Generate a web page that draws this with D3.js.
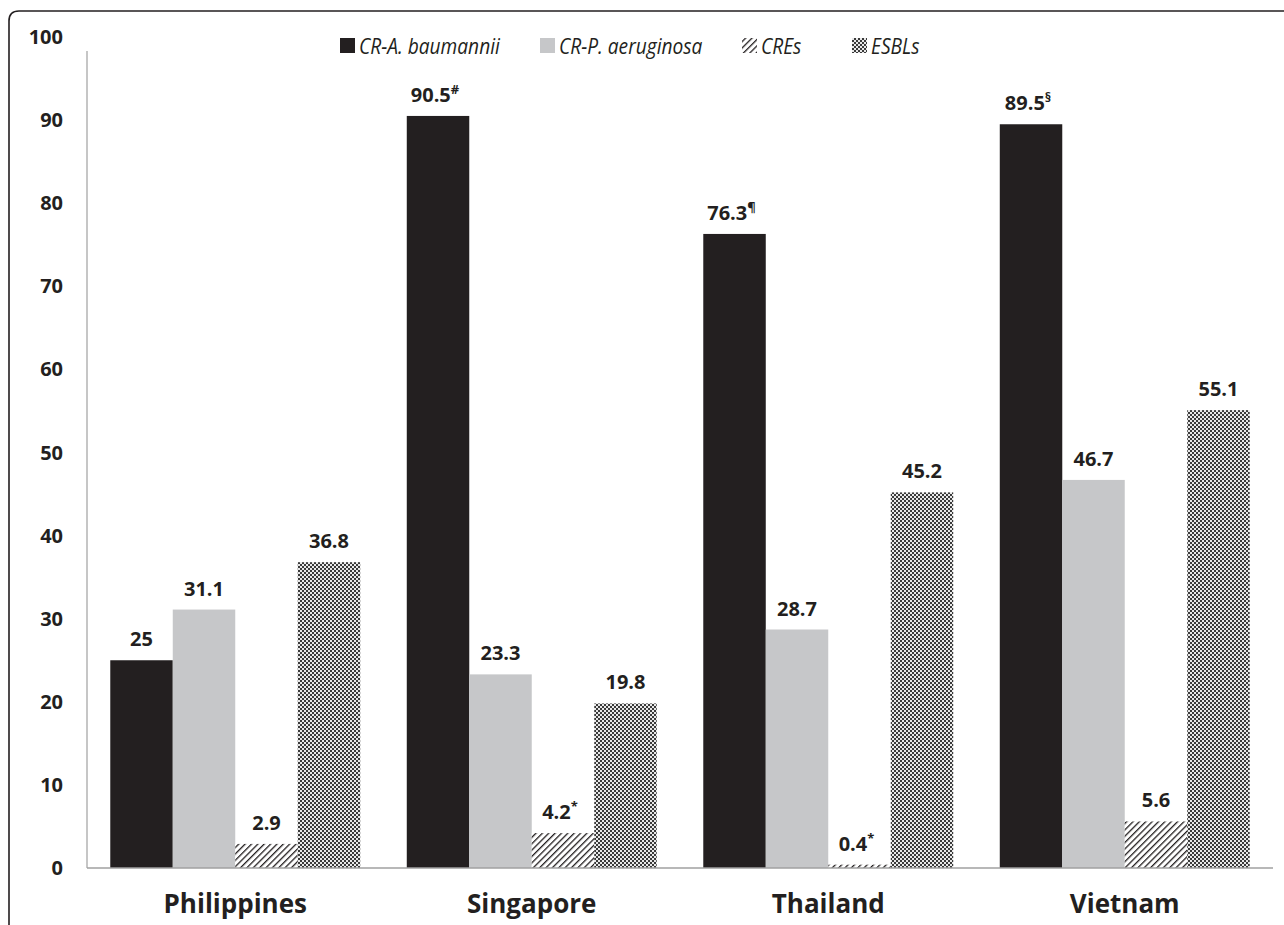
<!DOCTYPE html>
<html><head><meta charset="utf-8">
<script src="https://cdn.jsdelivr.net/npm/d3@7"></script>
<style>body{margin:0;background:#fff}svg{display:block}</style>
</head><body>
<script>
const countries = ["Philippines","Singapore","Thailand","Vietnam"];
const seriesNames = ["CR-A. baumannii","CR-P. aeruginosa","CREs","ESBLs"];
const crAbaumannii = [25, 90.5, 76.3, 89.5];
const crPaeruginosa = [31.1, 23.3, 28.7, 46.7];
const cres = [2.9, 4.2, 0.4, 5.6];
const esbls = [36.8, 19.8, 45.2, 55.1];
const labelsAB = ["25","90.5","76.3","89.5"];
const supAB = ["","#","¶","§"];
const labelsPA = ["31.1","23.3","28.7","46.7"];
const labelsCRE = ["2.9","4.2","0.4","5.6"];
const supCRE = ["","*","*",""];
const labelsESBL = ["36.8","19.8","45.2","55.1"];
const yTicks = [0,10,20,30,40,50,60,70,80,90,100];

const W=1284,H=925;
const svg=d3.select("body").append("svg").attr("width",W).attr("height",H);
const defs=svg.append("defs");
const hatch=defs.append("pattern").attr("id","hatch").attr("patternUnits","userSpaceOnUse").attr("width",4.5).attr("height",4.5).attr("patternTransform","rotate(45)");
hatch.append("rect").attr("width",4.5).attr("height",4.5).attr("fill","#fff");
hatch.append("rect").attr("width",1.3).attr("height",4.5).attr("fill","#231f20");
const check=defs.append("pattern").attr("id","check").attr("patternUnits","userSpaceOnUse").attr("width",4).attr("height",4);
check.append("rect").attr("width",4).attr("height",4).attr("fill","#e8e8e8");
check.append("rect").attr("width",2).attr("height",2).attr("fill","#3a3a3a");
check.append("rect").attr("x",2).attr("y",2).attr("width",2).attr("height",2).attr("fill","#3a3a3a");

const fills=["#231f20","#c6c7c9","url(#hatch)","url(#check)"];
const fontF="'Open Sans', 'DejaVu Sans', sans-serif";

svg.append("path").attr("d","M9,940 L9,21 Q9,11 19,11 L1300,11").attr("fill","none").attr("stroke","#231f20").attr("stroke-width",1.6);

const x0=d3.scaleBand().domain(countries).range([87,1273]).paddingInner(0.157).paddingOuter(0.0785);
const x1=d3.scaleBand().domain(seriesNames).range([0,x0.bandwidth()]);
const y=d3.scaleLinear().domain([0,100]).range([868,37]);

svg.append("line").attr("x1",87).attr("x2",87).attr("y1",y(100)+14).attr("y2",y(0)).attr("stroke","#a0a0a0").attr("stroke-width",1.2);

const rows=countries.map((c,i)=>({c,vals:[crAbaumannii[i],crPaeruginosa[i],cres[i],esbls[i]],
  labs:[labelsAB[i],labelsPA[i],labelsCRE[i],labelsESBL[i]],sups:[supAB[i],"",supCRE[i],""]}));

const g=svg.append("g");
rows.forEach(r=>{
  r.vals.forEach((v,j)=>{
    const s=seriesNames[j];
    g.append("rect").attr("x",x0(r.c)+x1(s)).attr("y",y(v)).attr("width",x1.bandwidth()).attr("height",y(0)-y(v)).attr("fill",fills[j]);
    const t=g.append("text").attr("x",x0(r.c)+x1(s)+x1.bandwidth()/2+(r.sups[j]?-3:0)).attr("y",y(v)-14)
      .attr("text-anchor","middle").attr("font-family",fontF).attr("font-weight","bold").attr("font-size",20).attr("fill","#231f20");
    t.append("tspan").text(r.labs[j]);
    if(r.sups[j]) t.append("tspan").attr("dy",-8).attr("font-size",13).text(r.sups[j]);
  });
});

svg.append("line").attr("x1",87).attr("x2",1273).attr("y1",y(0)).attr("y2",y(0)).attr("stroke","#a0a0a0").attr("stroke-width",1.5);

svg.append("g").selectAll("text").data(yTicks).join("text")
  .attr("x",63).attr("y",d=>y(d)+7).attr("text-anchor","end")
  .attr("font-family",fontF).attr("font-weight","bold").attr("font-size",20).attr("fill","#231f20").text(d=>d);

svg.append("g").selectAll("text").data(countries).join("text")
  .attr("x",d=>x0(d)+x0.bandwidth()/2).attr("y",913).attr("text-anchor","middle")
  .attr("font-family",fontF).attr("font-weight","bold").attr("font-size",26).attr("fill","#231f20").text(d=>d);

const legX=[340,540,742,852];
const leg=svg.append("g");
seriesNames.forEach((s,j)=>{
  leg.append("rect").attr("x",legX[j]).attr("y",38).attr("width",15).attr("height",15).attr("fill",fills[j]);
  const t=leg.append("text").attr("x",legX[j]+19).attr("y",54).attr("font-family",fontF).attr("font-style","italic")
    .attr("font-size",22).attr("fill","#231f20").text(s);
  const L=t.node().getComputedTextLength();
  t.attr("textLength",L*0.87).attr("lengthAdjust","spacingAndGlyphs");
});
</script>
</body></html>
